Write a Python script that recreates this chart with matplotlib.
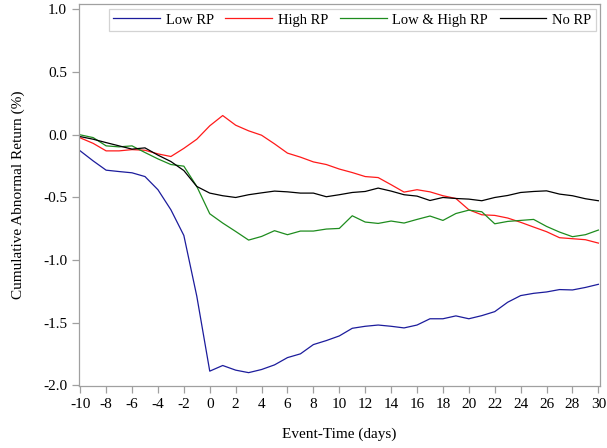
import numpy as np
import matplotlib
matplotlib.use('Agg')
import matplotlib.pyplot as plt

plt.rcParams['font.family'] = ['Liberation Serif', 'DejaVu Serif']
plt.rcParams['axes.unicode_minus'] = False

days = np.arange(-10, 31)

low_rp = [-0.13, -0.21, -0.284, -0.295, -0.305, -0.335, -0.44, -0.60, -0.805, -1.29,
          -1.888, -1.843, -1.88, -1.90, -1.875, -1.838, -1.78, -1.75, -1.676, -1.644,
          -1.607, -1.546, -1.53, -1.52, -1.53, -1.543, -1.52, -1.47, -1.47, -1.447,
          -1.47, -1.445, -1.413, -1.338, -1.285, -1.267, -1.256, -1.237, -1.24, -1.22,
          -1.195]
high_rp = [-0.026, -0.07, -0.13, -0.13, -0.12, -0.125, -0.154, -0.175, -0.11, -0.037,
           0.07, 0.152, 0.075, 0.03, -0.005, -0.074, -0.148, -0.18, -0.218, -0.239,
           -0.275, -0.303, -0.335, -0.343, -0.40, -0.459, -0.44, -0.457, -0.488, -0.51,
           -0.60, -0.64, -0.645, -0.666, -0.70, -0.738, -0.775, -0.823, -0.831, -0.839,
           -0.866]
low_high_rp = [-0.002, -0.024, -0.09, -0.098, -0.09, -0.143, -0.194, -0.239, -0.252, -0.414,
               -0.632, -0.706, -0.773, -0.842, -0.813, -0.767, -0.799, -0.77, -0.77, -0.754,
               -0.749, -0.648, -0.698, -0.709, -0.69, -0.706, -0.677, -0.65, -0.685, -0.63,
               -0.603, -0.616, -0.712, -0.693, -0.685, -0.677, -0.733, -0.778, -0.815, -0.799,
               -0.762]
no_rp = [-0.016, -0.037, -0.064, -0.09, -0.116, -0.106, -0.164, -0.215, -0.287, -0.414,
         -0.467, -0.488, -0.502, -0.48, -0.465, -0.451, -0.457, -0.467, -0.467, -0.496,
         -0.48, -0.462, -0.454, -0.427, -0.451, -0.48, -0.491, -0.526, -0.502, -0.51,
         -0.515, -0.528, -0.502, -0.486, -0.462, -0.454, -0.449, -0.475, -0.488, -0.512,
         -0.528]

fig = plt.figure(figsize=(6.07, 4.48), dpi=100)
ax = fig.add_axes([0.130, 0.138, 0.859, 0.853])

ax.plot(days, low_rp, color='#1c1c9c', linewidth=0.9, label='Low RP')
ax.plot(days, high_rp, color='#ff1a1a', linewidth=0.9, label='High RP')
ax.plot(days, low_high_rp, color='#1e8c1e', linewidth=0.9, label='Low & High RP')
ax.plot(days, no_rp, color='black', linewidth=0.9, label='No RP')

ax.set_xlim(-10.1, 30.15)
ax.set_ylim(-2.008, 1.042)
ax.set_xticks(np.arange(-10, 31, 2))
ax.set_yticks([-2.0, -1.5, -1.0, -0.5, 0.0, 0.5, 1.0])
ax.set_yticklabels(['-2.0', '-1.5', '-1.0', '-0.5', '0.0', '0.5', '1.0'])

for s in ax.spines.values():
    s.set_color('#a0a0a0')
    s.set_linewidth(0.9)
ax.tick_params(colors='#a0a0a0', labelcolor='black', labelsize=11, length=5, width=0.9)

ax.set_xlabel('Event-Time (days)', fontsize=11, labelpad=12)
ax.set_ylabel('Cumulative Abnormal Return (%)', fontsize=11, labelpad=13)

leg = ax.legend(loc='upper right', bbox_to_anchor=(0.9915, 0.987), ncol=4, fontsize=10.5,
                frameon=True, fancybox=False, handlelength=3.2, handletextpad=0.4,
                columnspacing=0.8, borderpad=0.3, borderaxespad=0.0)
leg.get_frame().set_edgecolor('#c8c8c8')
leg.get_frame().set_linewidth(0.9)

fig.savefig('out.png', dpi=100)
